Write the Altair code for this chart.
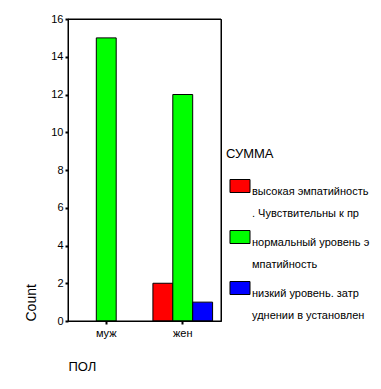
import altair as alt
import pandas as pd
import json

sexes = ["муж", "жен"]
categories = [
    "высокая эмпатийность. Чувствительны к пр",
    "нормальный уровень эмпатийность",
    "низкий уровень. затрудннении в установлен",
]
legend_lines = [
    ["высокая эмпатийность", ". Чувствительны к пр"],
    ["нормальный уровень э", "мпатийность"],
    ["низкий уровень. затр", "уднении в установлен"],
]
colors = ["#FF0000", "#00FF00", "#0000FF"]

bar_sex = ["муж", "жен", "жен", "жен"]
bar_cat = [categories[1], categories[0], categories[1], categories[2]]
bar_count = [15, 2, 12, 1]

df = pd.DataFrame({"ПОЛ": bar_sex, "СУММА": bar_cat, "Count": bar_count})

label_map = {c: l for c, l in zip(categories, legend_lines)}
label_expr = json.dumps(label_map, ensure_ascii=False) + "[datum.label]"

FONT = "Arial, Liberation Sans"

bars = alt.Chart(df).mark_bar(stroke="black", strokeWidth=1).encode(
    x=alt.X("ПОЛ:N", sort=sexes,
            scale=alt.Scale(paddingInner=0.22, paddingOuter=0.11),
            axis=alt.Axis(labelAngle=0, tickSize=3, tickWidth=2, tickColor="black",
                          domainColor="black", labelColor="black", labelFontSize=11,
                          labelFont=FONT, labelPadding=3,
                          title="ПОЛ", titleFont=FONT, titleFontSize=13,
                          titleFontWeight="normal", titleColor="black",
                          titleAnchor="start", titleAlign="left", titleBaseline="middle",
                          titleX=0, titleY=45)),
    xOffset=alt.XOffset("СУММА:N", sort=categories,
                        scale=alt.Scale(domain=categories, paddingInner=0, paddingOuter=0)),
    y=alt.Y("Count:Q", scale=alt.Scale(domain=[0, 16], nice=False),
            axis=alt.Axis(values=list(range(0, 17, 2)), grid=False, tickSize=3, tickWidth=2,
                          tickColor="black", domainColor="black", labelColor="black",
                          labelFontSize=11, labelFont=FONT, labelPadding=2,
                          title="Count", titleFont=FONT, titleFontSize=14,
                          titleFontWeight="normal", titleColor="black",
                          titleAnchor="start", titleBaseline="middle",
                          titleX=-37)),
    color=alt.Color("СУММА:N", sort=categories,
                    scale=alt.Scale(domain=categories, range=colors),
                    legend=alt.Legend(orient="none", legendX=158, legendY=129,
                                      title="СУММА", titleFont=FONT, titleFontSize=13,
                                      titleFontWeight="normal", titleColor="black",
                                      titlePadding=18,
                                      symbolType="M-1.54,-1L1.54,-1L1.54,1L-1.54,1Z",
                                      symbolSize=169, symbolStrokeColor="black",
                                      symbolStrokeWidth=1, symbolOpacity=1,
                                      symbolOffset=7, labelOffset=5,
                                      labelFont=FONT, labelFontSize=11, labelColor="black",
                                      labelLimit=300, labelBaseline="top",
                                      labelExpr=label_expr, rowPadding=9)),
)

frame = alt.Chart(pd.DataFrame({"f": [0]})).mark_rect(
    fill="transparent", stroke="black", strokeWidth=1
).encode(
    x=alt.value(0), x2=alt.value("width"),
    y=alt.value(0), y2=alt.value("height"),
)

chart = alt.layer(bars, frame).properties(
    width=153, height=302,
    autosize="none",
    padding={"left": 60, "top": 11, "right": 152, "bottom": 60},
).configure(
    background="white",
    view=alt.ViewConfig(stroke="black", strokeWidth=1),
    style={"guide-label": {"lineHeight": 22}},
)

chart.save("out.html", embed_options={"renderer": "svg", "actions": False})
